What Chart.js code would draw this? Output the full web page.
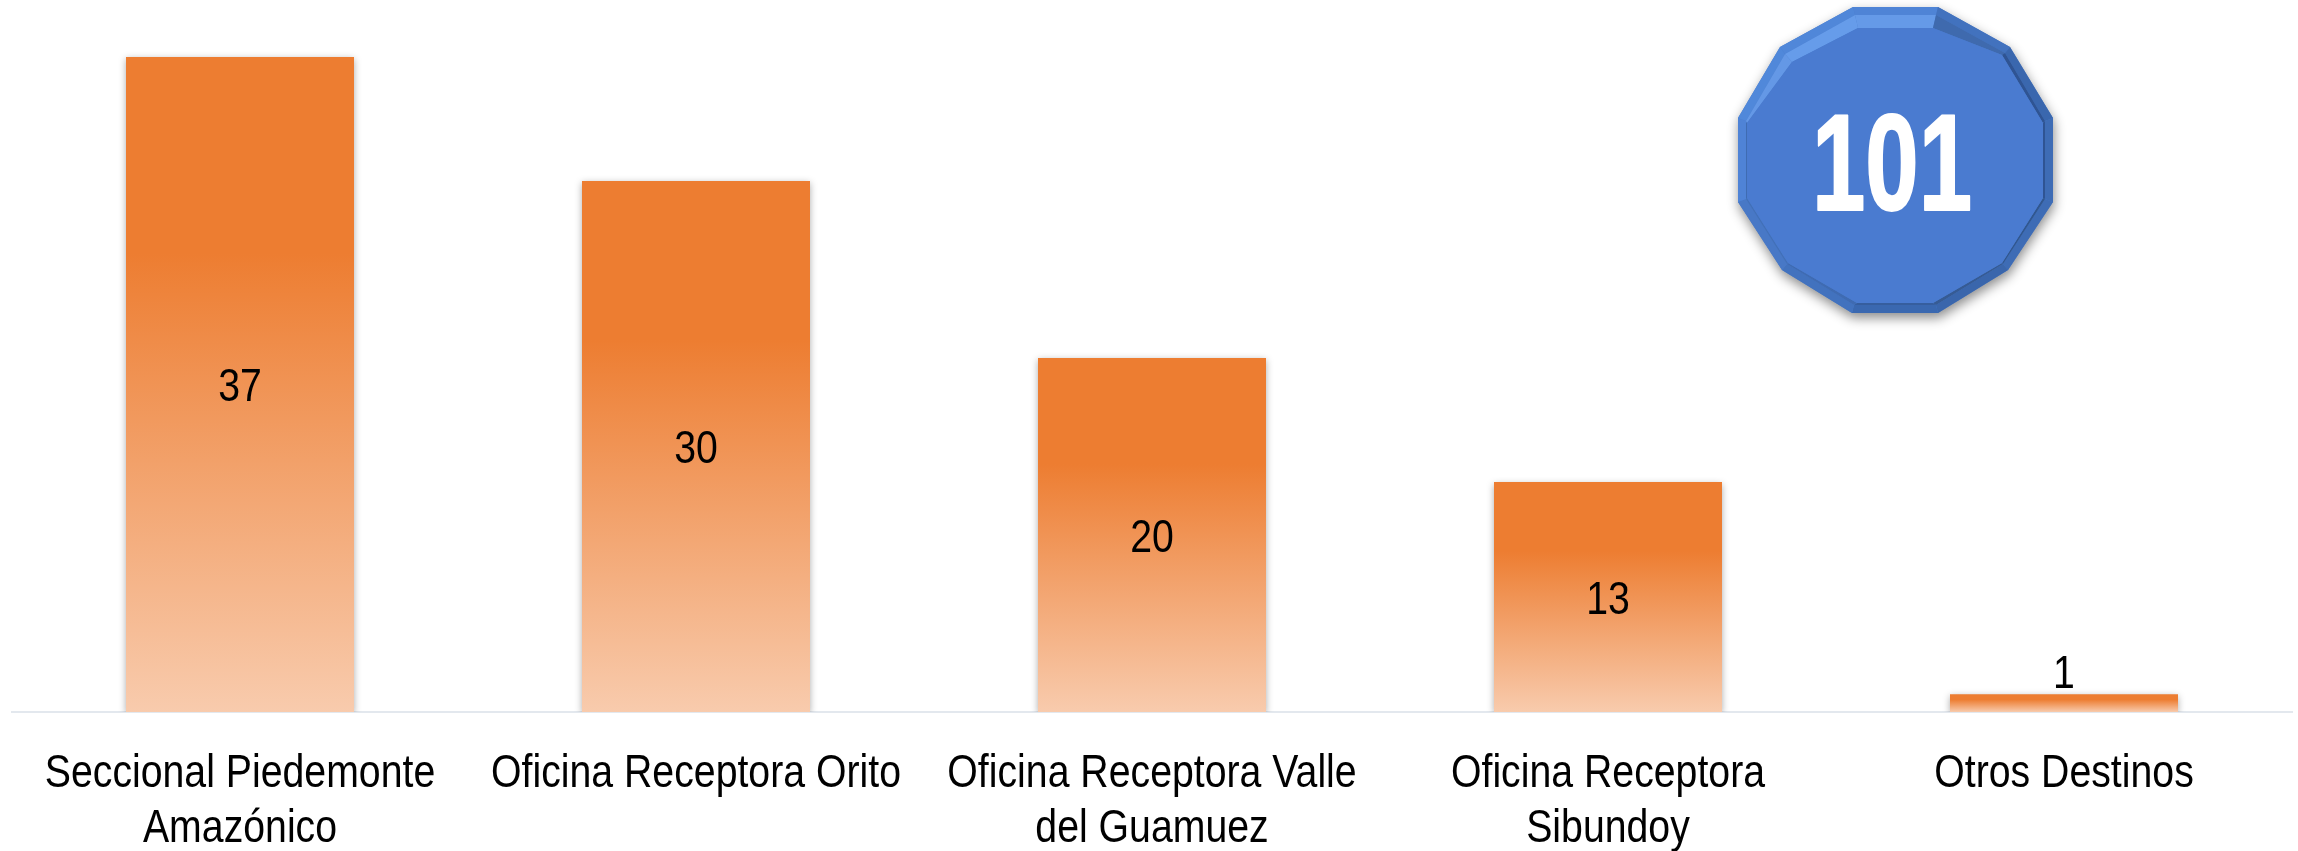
<!DOCTYPE html>
<html><head><meta charset="utf-8">
<style>html,body{margin:0;padding:0;background:#fff}#w{width:2298px;height:851px;position:relative}</style>
<script src="https://cdn.jsdelivr.net/npm/chart.js@4/dist/chart.umd.js"></script>
</head><body><div id="w"><canvas id="c" width="2298" height="851"></canvas></div>
<script>
const categories=[["Seccional Piedemonte","Amazónico"],"Oficina Receptora Orito",["Oficina Receptora Valle","del Guamuez"],["Oficina Receptora","Sibundoy"],"Otros Destinos"];
const values=[37,30,20,13,1];
const totalLabel="101";
const FONT='"Liberation Sans",Arial,sans-serif';
const TEXT_NARROW=0.853;

const canvas=document.getElementById('c');
const rawCtx=canvas.getContext('2d');
const origFill=rawCtx.fillText;
rawCtx.fillText=function(t,px,py,mw){
  this.save();this.translate(px,py);this.scale(TEXT_NARROW,1);
  origFill.call(this,t,0,0);this.restore();
};

function barGradient(ctx){
  if(!ctx.chart.chartArea) return '#ED7D31';
  const y=ctx.chart.scales.y, top=y.getPixelForValue(values[ctx.dataIndex]), bot=y.getPixelForValue(0);
  const g=ctx.chart.ctx.createLinearGradient(0,top,0,bot);
  g.addColorStop(0,'#ED7D31');g.addColorStop(0.3,'#ED7D31');g.addColorStop(1,'#F8CBAD');
  return g;
}
const barShadow={id:'barShadow',
  beforeDatasetDraw(c){const x=c.ctx;x.save();x.shadowColor='rgba(0,0,0,0.33)';x.shadowBlur=7;x.shadowOffsetY=2;},
  afterDatasetDraw(c){c.ctx.restore();}};
const barLabels={id:'barLabels',afterDatasetsDraw(c){
  const x=c.ctx,m=c.getDatasetMeta(0);x.save();
  x.font='46px '+FONT;x.fillStyle='#000';x.textAlign='center';x.textBaseline='middle';
  m.data.forEach((b,i)=>{
    const h=b.base-b.y;
    const yy=h>60?(b.y+b.base)/2+4:b.y-19;
    x.fillText(String(values[i]),b.x,yy);
  });x.restore();}};
const badge={id:'badge',afterDraw(c){
  const x=c.ctx;
  const outer=[[1853,7],[1938,7],[2010,47],[2053,118],[2053,202],[2008,270],[1938,313],[1852,313],[1782,270],[1738,202],[1738,118],[1780,47]];
  const mid=[[1855,15],[1936,15],[2005,53],[2045,121],[2045,199],[2003,264],[1936,305],[1854,305],[1787,264],[1746,199],[1746,121],[1785,54]];
  const inner=[[1858,28],[1933,28],[2002,55],[2043,123],[2043,198],[2002,263],[1933,303],[1857,303],[1788,263],[1747,198],[1747,123],[1792,62]];
  const poly=p=>{x.beginPath();p.forEach((q,i)=>i?x.lineTo(q[0],q[1]):x.moveTo(q[0],q[1]));x.closePath();};
  x.save();
  x.shadowColor='rgba(0,0,0,0.45)';x.shadowBlur=12;x.shadowOffsetY=5;x.shadowOffsetX=1;
  poly(outer);x.fillStyle='#4A7CCB';x.fill();x.restore();
  const outerCols=['#4F84D6','#4272BE','#3A67AE','#3E6CB5','#3E6CB5','#3A66AC','#3A68B0','#4272BE','#4878C6','#4F83D6','#5088DA','#5087D9'];
  const innerCols=['#659AE8','#3F6AAE','#2F5493','#2F5493','#31578F','#365B94','#365E9E','#3F6BB2','#4270B8','#3F6CB2','#6498E6','#669CEA'];
  for(let i=0;i<12;i++){const j=(i+1)%12;
    poly([outer[i],outer[j],mid[j],mid[i]]);x.fillStyle=outerCols[i];x.fill();
    poly([mid[i],mid[j],inner[j],inner[i]]);x.fillStyle=innerCols[i];x.fill();}
  poly(inner);x.fillStyle='#4A7BD0';x.fill();
  x.save();x.fillStyle='#fff';x.strokeStyle='#fff';x.lineWidth=2;x.lineJoin='round';
  x.font='bold 138px '+FONT;x.textAlign='center';x.textBaseline='alphabetic';
  x.translate(1892,210);x.scale(0.815,1);
  x.fillText(totalLabel,0,0);
  x.scale(TEXT_NARROW,1);x.strokeText(totalLabel,0,0);
  x.restore();
}};
new Chart(canvas,{
  type:'bar',
  data:{labels:categories,datasets:[{data:values,backgroundColor:barGradient,borderWidth:0,barPercentage:0.5,categoryPercentage:1}]},
  plugins:[barShadow,barLabels,badge],
  options:{responsive:false,animation:false,
    layout:{padding:{left:12,right:6,top:4,bottom:0}},
    plugins:{legend:{display:false},tooltip:{enabled:false},title:{display:false}},
    scales:{
      y:{display:false,min:0,max:40},
      x:{afterFit(s){s.height=139;s.paddingLeft=0;s.paddingRight=0;},
        grid:{display:false,drawTicks:false},
        border:{display:true,color:'#E3E8EE',width:2},
        ticks:{color:'#000',padding:35,maxRotation:0,minRotation:0,autoSkip:false,
          font:{family:FONT,size:46,lineHeight:55/46}}}
    }}
});
</script></body></html>
